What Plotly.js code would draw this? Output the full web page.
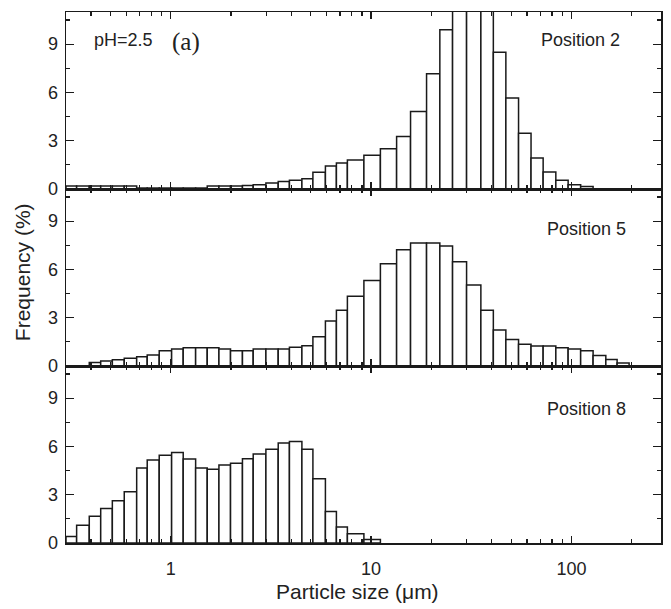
<!DOCTYPE html>
<html><head><meta charset="utf-8">
<script src="https://cdn.plot.ly/plotly-3.0.1.min.js"></script>
<style>html,body{margin:0;padding:0;background:#fff}</style>
</head><body><div id="chart" style="width:671px;height:609px"></div>
<script>
// Bin edges (µm)
const binEdges = [0.30,0.339,0.392,0.447,0.511,0.586,0.676,0.763,0.876,1.010,1.154,1.331,1.521,1.740,1.988,2.280,2.580,2.985,3.439,3.912,4.515,5.124,5.916,6.713,7.616,9.207,11.13,13.41,15.74,18.92,22.04,25.51,29.97,35.32,40.76,47.07,54.46,62.87,72.26,83.6,96.3,111.2,128.3,148.5,169.1,194.1];
// Frequency (%) per bin
const position2 = [0.19,0.19,0.19,0.19,0.19,0.19, 0.06,0.06,0.06,0.06,0.06,0.06, 0.19,0.19,0.19, 0.22,0.27,0.37,0.46,0.54,0.64, 1.04,1.43,1.61,1.80,2.09, 2.50,3.26,4.81,7.16,9.90, 12.6,14.0,12.4, 8.50,5.66,3.47,1.93,1.05,0.55,0.27,0.16, 0,0,0];
const position5 = [0,0,0.21,0.31,0.39,0.48,0.58,0.68,0.95,1.06,1.14,1.14,1.14,1.06,0.95,0.95,1.06,1.06,1.06,1.16,1.26,1.82,2.80,3.47,4.33,5.32,6.36,7.23,7.64,7.64,7.45,6.48,5.03,3.46,2.23,1.64,1.35,1.24,1.24,1.14,1.06,0.95,0.65,0.40,0.19];
const position8 = [0.41,1.10,1.66,2.15,2.63,3.19,4.66,5.16,5.45,5.63,5.22,4.66,4.58,4.84,4.95,5.24,5.53,5.82,6.21,6.31,5.82,4.00,1.95,0.99,0.58,0.21,0,0,0,0,0,0,0,0,0,0,0,0,0,0,0,0,0,0,0];
const panelLabels = ['Position 2','Position 5','Position 8'];
const xTickValues = [1,10,100];
const xTickLabels = ['1','10','100'];
const xMinorValues = [0.4,0.5,0.6,0.7,0.8,0.9,2,3,4,5,6,7,8,9,20,30,40,50,60,70,80,90,200];
const yTickValues = [0,3,6,9];
const xLimits = [0.3,280];
const yLimits = [0,11];

const ink = '#1a1a1a';
const sans = 'Liberation Sans, Arial, sans-serif';

function barsFor(vals, n) {
  const x = [], w = [], y = [];
  for (let i = 0; i < vals.length; i++) {
    if (vals[i] > 0) {
      const a = Math.log10(binEdges[i]), b = Math.log10(binEdges[i + 1]);
      x.push((a + b) / 2); w.push(b - a); y.push(vals[i]);
    }
  }
  const s = n === 1 ? '' : String(n);
  return {type: 'bar', x: x, y: y, width: w, xaxis: 'x' + s, yaxis: 'y' + s,
    marker: {color: '#ffffff', line: {color: ink, width: 1.5}},
    hoverinfo: 'skip', showlegend: false};
}

const data = [barsFor(position2, 1), barsFor(position5, 2), barsFor(position8, 3)];

function xAxis(n, showLabels) {
  const s = n === 1 ? '' : String(n);
  return {
    anchor: 'y' + s, domain: [0, 1],
    range: xLimits.map(Math.log10),
    showline: true, linecolor: ink, linewidth: 1.5, mirror: 'ticks',
    ticks: 'inside', ticklen: 7, tickwidth: 1.2, tickcolor: ink,
    tickmode: 'array', tickvals: xTickValues.map(Math.log10), ticktext: xTickLabels,
    showticklabels: showLabels, ticklabelstandoff: 9, tickfont: {family: sans, size: 18, color: '#222'},
    minor: {tickmode: 'array', tickvals: xMinorValues.map(Math.log10), ticks: 'inside', ticklen: 4, tickwidth: 1.2, tickcolor: ink, showgrid: false},
    showgrid: false, zeroline: false, fixedrange: true, automargin: false
  };
}
function yAxis(n, dom) {
  const s = n === 1 ? '' : String(n);
  return {
    anchor: 'x' + s, domain: dom, range: yLimits,
    showline: true, linecolor: ink, linewidth: 1.5, mirror: 'ticks',
    ticks: 'inside', ticklen: 8, tickwidth: 1.2, tickcolor: ink,
    tickmode: 'array', tickvals: yTickValues, ticklabelstandoff: 3,
    tickfont: {family: sans, size: 18, color: '#222'},
    minor: {dtick: 1.5, tick0: 0, ticks: 'inside', ticklen: 4, tickwidth: 1.2, tickcolor: ink, showgrid: false},
    showgrid: false, zeroline: false, fixedrange: true, automargin: false
  };
}

const layout = {
  width: 671, height: 609,
  margin: {l: 66, r: 10, t: 12, b: 66},
  paper_bgcolor: '#fff', plot_bgcolor: '#fff',
  xaxis: xAxis(1, false), yaxis: yAxis(1, [2/3, 1]),
  xaxis2: xAxis(2, false), yaxis2: yAxis(2, [1/3, 2/3]),
  xaxis3: xAxis(3, true), yaxis3: yAxis(3, [0, 1/3]),
  annotations: [
    {text: 'pH=2.5', xref: 'paper', yref: 'paper', x: 0.044, y: 0.947, xanchor: 'left', yanchor: 'middle', showarrow: false, font: {family: sans, size: 18, color: '#222'}},
    {text: '(a)', xref: 'paper', yref: 'paper', x: 0.174, y: 0.943, xanchor: 'left', yanchor: 'middle', showarrow: false, font: {family: 'Liberation Serif, Times New Roman, serif', size: 25, color: '#222'}},
    {text: panelLabels[0], xref: 'paper', yref: 'paper', x: 0.934, y: 0.947, xanchor: 'right', yanchor: 'middle', showarrow: false, font: {family: sans, size: 18, color: '#222'}},
    {text: panelLabels[1], xref: 'paper', yref: 'paper', x: 0.945, y: 0.591, xanchor: 'right', yanchor: 'middle', showarrow: false, font: {family: sans, size: 18, color: '#222'}},
    {text: panelLabels[2], xref: 'paper', yref: 'paper', x: 0.945, y: 0.252, xanchor: 'right', yanchor: 'middle', showarrow: false, font: {family: sans, size: 18, color: '#222'}},
    {text: 'Particle size (μm)', xref: 'paper', yref: 'paper', x: 0.49, y: -0.092, xanchor: 'center', yanchor: 'middle', showarrow: false, font: {family: sans, size: 21, color: '#222'}},
    {text: 'Frequency (%)', xref: 'paper', yref: 'paper', x: -0.074, y: 0.51, xanchor: 'center', yanchor: 'middle', textangle: -90, showarrow: false, font: {family: sans, size: 21, color: '#222'}}
  ]
};

Plotly.newPlot('chart', data, layout, {displayModeBar: false, staticPlot: true});
</script>
</body></html>
